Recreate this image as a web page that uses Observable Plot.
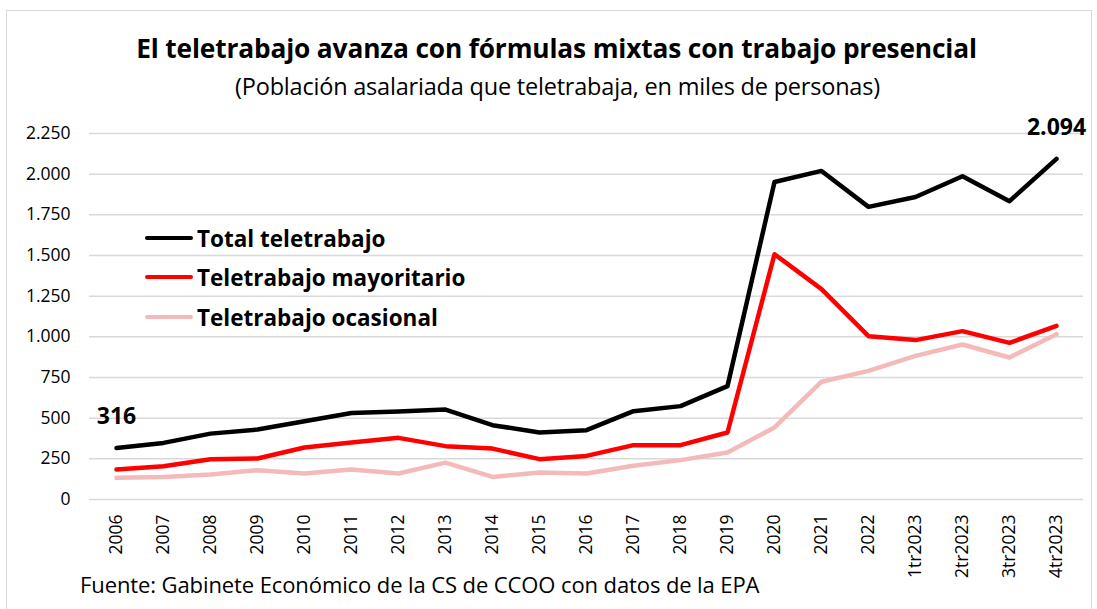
<!DOCTYPE html>
<html>
<head>
<meta charset="utf-8">
<script src="https://cdn.jsdelivr.net/npm/d3@7"></script>
<script src="https://cdn.jsdelivr.net/npm/@observablehq/plot@0.6"></script>
<style>
  html, body { margin: 0; padding: 0; background: #fff; }
  body { font-family: "Open Sans", sans-serif; color: #000; }
  #wrap { position: relative; width: 1097px; height: 609px; overflow: hidden; }
  #frame { position: absolute; left: 6px; top: 10px; width: 1086px; height: 640px; border: 1.5px solid #d9d9d9; box-sizing: border-box; }
  #title { position: absolute; left: 0; width: 1113px; top: 30px; text-align: center; font-weight: 700; font-size: 26.3px; line-height: 36px; letter-spacing: -0.15px; }
  #subtitle { position: absolute; left: 0; width: 1115px; top: 71px; text-align: center; font-size: 23.5px; line-height: 30px; letter-spacing: -0.2px; }
  #chart { position: absolute; left: 0; top: 105px; }
  #caption { position: absolute; left: 80px; top: 569px; font-size: 22px; line-height: 30px; letter-spacing: -0.1px; }
  .leg { position: absolute; left: 145px; height: 30px; display: flex; align-items: center; font-weight: 700; font-size: 22.5px; letter-spacing: 0; }
  .leg span.sw { display: inline-block; width: 48px; height: 4.5px; border-radius: 2px; margin-right: 4px; }
</style>
</head>
<body>
<div id="wrap">
  <div id="frame"></div>
  <div id="title">El teletrabajo avanza con fórmulas mixtas con trabajo presencial</div>
  <div id="subtitle">(Población asalariada que teletrabaja, en miles de personas)</div>
  <div id="chart"></div>
  <div id="legend"></div>
  <div id="caption">Fuente: Gabinete Económico de la CS de CCOO con datos de la EPA</div>
</div>
<script>
const categories = ["2006","2007","2008","2009","2010","2011","2012","2013","2014","2015","2016","2017","2018","2019","2020","2021","2022","1tr2023","2tr2023","3tr2023","4tr2023"];
const total =       [316, 348, 405, 430, 481, 532, 541, 553, 457, 412, 426, 543, 574, 697, 1952, 2020, 1799, 1860, 1987, 1834, 2094];
const mayoritario = [184, 205, 248, 252, 320, 350, 379, 328, 313, 248, 268, 334, 334, 412, 1508, 1293, 1004, 980, 1035, 963, 1067];
const ocasional =   [133, 139, 154, 180, 160, 184, 160, 227, 139, 166, 160, 207, 242, 289, 443, 724, 791, 883, 953, 873, 1016];
const seriesNames = ["Total teletrabajo", "Teletrabajo mayoritario", "Teletrabajo ocasional"];
const seriesColors = ["#000000", "#ff0000", "#f4b9b9"];
const yTicks = [0, 250, 500, 750, 1000, 1250, 1500, 1750, 2000, 2250];

const locale = d3.formatLocale({decimal: ",", thousands: ".", grouping: [3], currency: ["", "€"]});
const fmt = locale.format(",d");

const seriesValues = [total, mayoritario, ocasional];
const rows = [];
seriesNames.forEach((name, s) => {
  categories.forEach((c, i) => {
    if (seriesValues[s][i] != null) rows.push({series: name, cat: c, value: seriesValues[s][i]});
  });
});
const drawOrder = [2, 1, 0];
const labels = [
  {cat: categories[0], value: total[0]},
  {cat: categories[categories.length - 1], value: total[total.length - 1]}
];

const lineMarks = drawOrder.map(s => Plot.line(rows.filter(d => d.series === seriesNames[s]), {
  x: "cat", y: "value", stroke: seriesColors[s], strokeWidth: 4.5, strokeLinejoin: "round", strokeLinecap: "round"
}));

const chart = Plot.plot({
  width: 1097,
  height: 494,
  marginLeft: 89,
  marginRight: 14,
  marginTop: 28,
  marginBottom: 100,
  style: {fontFamily: "Open Sans, sans-serif", fontSize: "17px", color: "#000", background: "transparent", overflow: "visible"},
  x: {type: "point", domain: categories, padding: 0.5},
  y: {domain: [0, 2250]},
  marks: [
    Plot.ruleY(yTicks, {stroke: "#d9d9d9", strokeWidth: 1.5}),
    Plot.axisY({ticks: yTicks, tickFormat: fmt, tickSize: 0, tickPadding: 19, fontSize: 17.5, label: null}),
    Plot.axisX({tickRotate: -90, tickSize: 0, tickPadding: 15, fontSize: 17.5, label: null}),
    ...lineMarks,
    Plot.text(labels, {x: "cat", y: "value", text: d => fmt(d.value), dy: -31, fontWeight: 700, fontSize: 23, fill: "#000"})
  ]
});
document.getElementById("chart").appendChild(chart);

const legend = document.getElementById("legend");
const legendTops = [223, 262, 302];
seriesNames.forEach((name, s) => {
  const row = document.createElement("div");
  row.className = "leg";
  row.style.top = legendTops[s] + "px";
  const sw = document.createElement("span");
  sw.className = "sw";
  sw.style.background = seriesColors[s];
  row.appendChild(sw);
  row.appendChild(document.createTextNode(name));
  legend.appendChild(row);
});
</script>
</body>
</html>
